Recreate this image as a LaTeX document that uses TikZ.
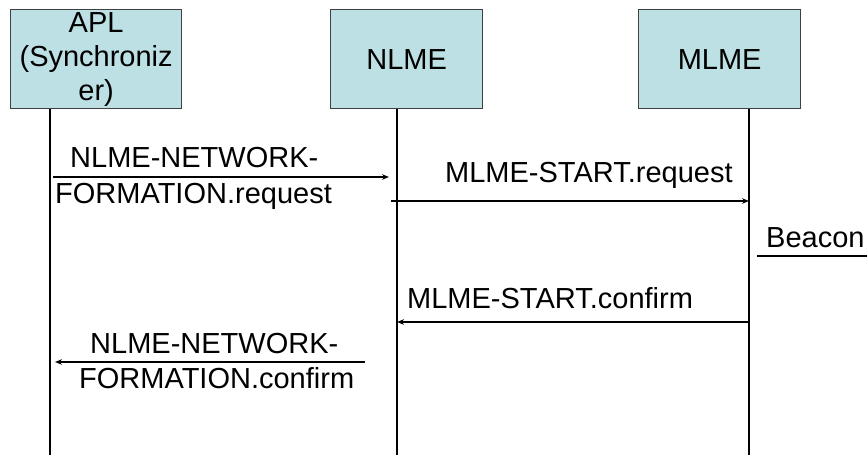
\documentclass[tikz,border=0pt]{standalone}
\usepackage{fontspec}
\setmainfont{Liberation Sans}
\usetikzlibrary{arrows.meta}
\begin{document}
\begin{tikzpicture}[x=1pt,y=-1pt,
  every node/.style={font=\fontsize{29}{34}\selectfont, inner sep=0pt},
  entity/.style={draw=black!75, line width=1.3pt, fill=boxfill, align=center, anchor=north west, minimum height=99pt},
  lifeline/.style={line width=1.2pt},
  msg/.style={line width=1.2pt, -{Stealth[length=7pt,width=5.5pt]}},
  lbl/.style={anchor=base west}
]
\definecolor{boxfill}{HTML}{BCE0E3}
\useasboundingbox[fill=white] (0,0) rectangle (867,455);
% entities
\node[entity, minimum width=171pt] (apl) at (10,9) {APL\\(Synchroniz\\er)};
\node[entity, minimum width=152pt] (nlme) at (330,9) {NLME};
\node[entity, minimum width=162pt] (mlme) at (638,9) {MLME};
% lifeline ends
\coordinate (aplb) at (50,455);
\coordinate (nlmeb) at (397,455);
\coordinate (mlmeb) at (749,455);
\draw[lifeline] (aplb |- apl.south) -- (aplb);
\draw[lifeline] (nlmeb |- nlme.south) -- (nlmeb);
\draw[lifeline] (mlmeb |- mlme.south) -- (mlmeb);
% message end points
\coordinate (m1s) at (53,177);  \coordinate (m1e) at (389,177);
\coordinate (m2s) at (391,201); \coordinate (m2e) at (749,201);
\coordinate (m3s) at (749,322); \coordinate (m3e) at (397,322);
\coordinate (m4s) at (365,362); \coordinate (m4e) at (55,362);
\draw[msg] (m1s) -- (m1e);
\draw[msg] (m2s) -- (m2e);
\draw[msg] (m3s) -- (m3e);
\draw[msg] (m4s) -- (m4e);
% labels
\node[lbl] (l1a) at (70,167) {NLME-NETWORK-};
\node[lbl] (l1b) at (55,203) {FORMATION.request};
\node[lbl] (l2) at (445,182) {MLME-START.request};
\node[lbl] (bc) at (766,247) {Beacon};
\coordinate (bcs) at (757,256); \coordinate (bce) at (867,256);
\draw[line width=1.2pt] (bcs) -- (bce);
\node[lbl] (l3) at (407,308) {MLME-START.confirm};
\node[lbl] (l4a) at (90,353) {NLME-NETWORK-};
\node[lbl] (l4b) at (79,388) {FORMATION.confirm};
\end{tikzpicture}
\end{document}
